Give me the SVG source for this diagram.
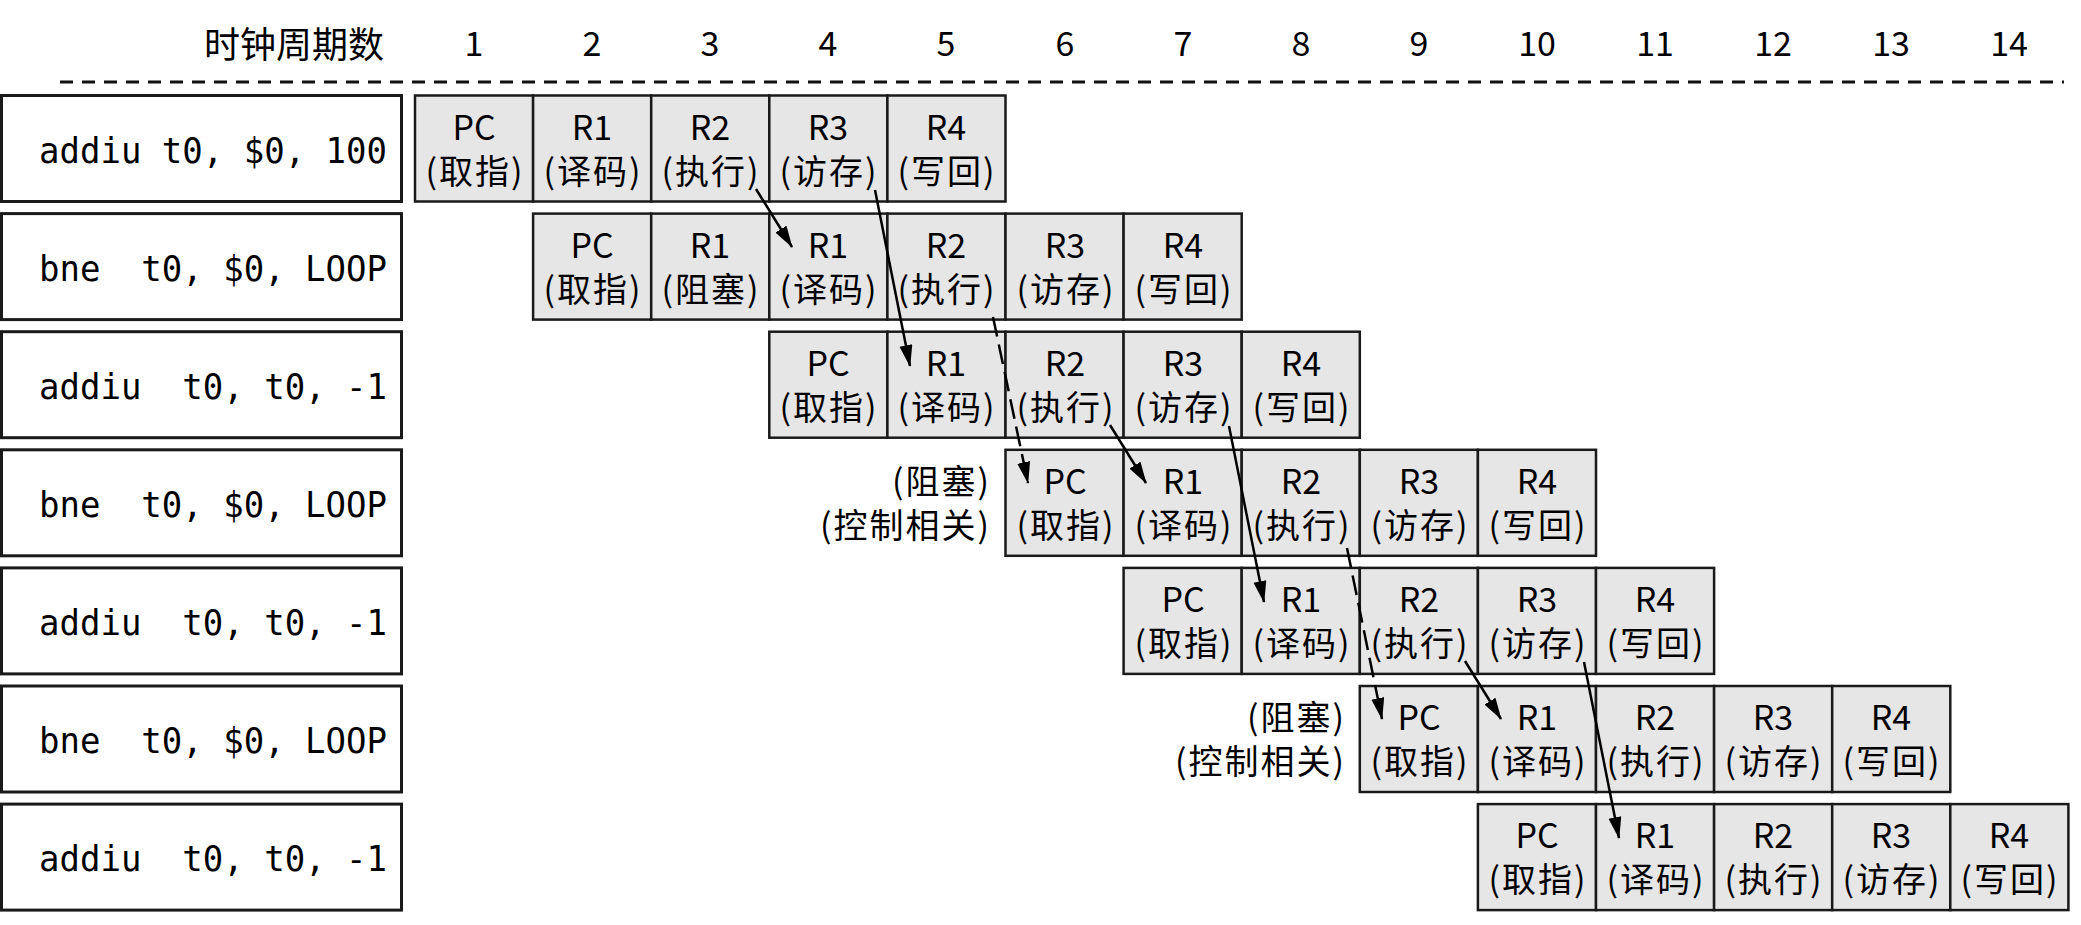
<svg xmlns="http://www.w3.org/2000/svg" width="2081" height="925" viewBox="0 0 2081 925">
<style>
.box{fill:#fff;stroke:#1a1a1a;stroke-width:3}
.cell{fill:#e6e6e6;stroke:#1a1a1a;stroke-width:2.5}
.t{font-family:"Noto Sans CJK SC","Noto Sans",sans-serif;font-size:34px;fill:#000;text-anchor:middle}
.p{letter-spacing:2px}
.h{font-family:"Noto Sans CJK SC","Noto Sans",sans-serif;font-size:36px;fill:#000}
.lbl{font-family:"Noto Sans CJK SC","Noto Sans",sans-serif;font-size:34px;fill:#000;text-anchor:end;letter-spacing:2px}
.mono{font-family:"DejaVu Sans Mono","Liberation Mono",monospace;font-size:36px;fill:#000}
.conn{stroke:#000;stroke-width:2.5;fill:none;marker-end:url(#ah)}
.dash{stroke-dasharray:20 8}
</style>
<defs>
<marker id="ah" markerUnits="userSpaceOnUse" markerWidth="24" markerHeight="14" refX="21" refY="6.5" orient="auto">
<path d="M0,0 L22,6.5 L0,13 z" fill="#000"/>
</marker>
</defs>
<rect x="0" y="0" width="2081" height="925" fill="#fff"/>
<g id="header">
<text class="h" x="384" y="58" text-anchor="end">时钟周期数</text>
<text class="t" x="474" y="56">1</text>
<text class="t" x="592" y="56">2</text>
<text class="t" x="710" y="56">3</text>
<text class="t" x="828" y="56">4</text>
<text class="t" x="946" y="56">5</text>
<text class="t" x="1065" y="56">6</text>
<text class="t" x="1183" y="56">7</text>
<text class="t" x="1301" y="56">8</text>
<text class="t" x="1419" y="56">9</text>
<text class="t" x="1537" y="56">10</text>
<text class="t" x="1655" y="56">11</text>
<text class="t" x="1773" y="56">12</text>
<text class="t" x="1891" y="56">13</text>
<text class="t" x="2009" y="56">14</text>
<line x1="60" y1="82" x2="2064" y2="82" stroke="#111" stroke-width="3" stroke-dasharray="13 9"/>
</g>
<g id="instr1">
<rect class="box" x="1.5" y="95.5" width="400" height="106"/>
<text class="mono" x="39" y="163" textLength="348" lengthAdjust="spacingAndGlyphs" xml:space="preserve">addiu t0, $0, 100</text>
</g>
<g id="instr2">
<rect class="box" x="1.5" y="213.6" width="400" height="106"/>
<text class="mono" x="39" y="281" textLength="348" lengthAdjust="spacingAndGlyphs" xml:space="preserve">bne  t0, $0, LOOP</text>
</g>
<g id="instr3">
<rect class="box" x="1.5" y="331.7" width="400" height="106"/>
<text class="mono" x="39" y="399" textLength="348" lengthAdjust="spacingAndGlyphs" xml:space="preserve">addiu  t0, t0, -1</text>
</g>
<g id="instr4">
<rect class="box" x="1.5" y="449.8" width="400" height="106"/>
<text class="mono" x="39" y="517" textLength="348" lengthAdjust="spacingAndGlyphs" xml:space="preserve">bne  t0, $0, LOOP</text>
</g>
<g id="instr5">
<rect class="box" x="1.5" y="567.9" width="400" height="106"/>
<text class="mono" x="39" y="635" textLength="348" lengthAdjust="spacingAndGlyphs" xml:space="preserve">addiu  t0, t0, -1</text>
</g>
<g id="instr6">
<rect class="box" x="1.5" y="686" width="400" height="106"/>
<text class="mono" x="39" y="753" textLength="348" lengthAdjust="spacingAndGlyphs" xml:space="preserve">bne  t0, $0, LOOP</text>
</g>
<g id="instr7">
<rect class="box" x="1.5" y="804.1" width="400" height="106"/>
<text class="mono" x="39" y="871" textLength="348" lengthAdjust="spacingAndGlyphs" xml:space="preserve">addiu  t0, t0, -1</text>
</g>

<g id="pipe1">
<rect class="cell" x="415" y="95.5" width="118.1" height="106"/><text class="t"><tspan x="474" y="139.5">PC</tspan><tspan class="p" x="475" y="183.5">(取指)</tspan></text>
<rect class="cell" x="533.1" y="95.5" width="118.1" height="106"/><text class="t"><tspan x="592" y="139.5">R1</tspan><tspan class="p" x="593" y="183.5">(译码)</tspan></text>
<rect class="cell" x="651.2" y="95.5" width="118.1" height="106"/><text class="t"><tspan x="710" y="139.5">R2</tspan><tspan class="p" x="711" y="183.5">(执行)</tspan></text>
<rect class="cell" x="769.3" y="95.5" width="118.1" height="106"/><text class="t"><tspan x="828" y="139.5">R3</tspan><tspan class="p" x="829" y="183.5">(访存)</tspan></text>
<rect class="cell" x="887.4" y="95.5" width="118.1" height="106"/><text class="t"><tspan x="946" y="139.5">R4</tspan><tspan class="p" x="947" y="183.5">(写回)</tspan></text>
</g>
<g id="pipe2">
<rect class="cell" x="533.1" y="213.6" width="118.1" height="106"/><text class="t"><tspan x="592" y="257.6">PC</tspan><tspan class="p" x="593" y="301.6">(取指)</tspan></text>
<rect class="cell" x="651.2" y="213.6" width="118.1" height="106"/><text class="t"><tspan x="710" y="257.6">R1</tspan><tspan class="p" x="711" y="301.6">(阻塞)</tspan></text>
<rect class="cell" x="769.3" y="213.6" width="118.1" height="106"/><text class="t"><tspan x="828" y="257.6">R1</tspan><tspan class="p" x="829" y="301.6">(译码)</tspan></text>
<rect class="cell" x="887.4" y="213.6" width="118.1" height="106"/><text class="t"><tspan x="946" y="257.6">R2</tspan><tspan class="p" x="947" y="301.6">(执行)</tspan></text>
<rect class="cell" x="1005.5" y="213.6" width="118.1" height="106"/><text class="t"><tspan x="1065" y="257.6">R3</tspan><tspan class="p" x="1066" y="301.6">(访存)</tspan></text>
<rect class="cell" x="1123.6" y="213.6" width="118.1" height="106"/><text class="t"><tspan x="1183" y="257.6">R4</tspan><tspan class="p" x="1184" y="301.6">(写回)</tspan></text>
</g>
<g id="pipe3">
<rect class="cell" x="769.3" y="331.7" width="118.1" height="106"/><text class="t"><tspan x="828" y="375.7">PC</tspan><tspan class="p" x="829" y="419.7">(取指)</tspan></text>
<rect class="cell" x="887.4" y="331.7" width="118.1" height="106"/><text class="t"><tspan x="946" y="375.7">R1</tspan><tspan class="p" x="947" y="419.7">(译码)</tspan></text>
<rect class="cell" x="1005.5" y="331.7" width="118.1" height="106"/><text class="t"><tspan x="1065" y="375.7">R2</tspan><tspan class="p" x="1066" y="419.7">(执行)</tspan></text>
<rect class="cell" x="1123.6" y="331.7" width="118.1" height="106"/><text class="t"><tspan x="1183" y="375.7">R3</tspan><tspan class="p" x="1184" y="419.7">(访存)</tspan></text>
<rect class="cell" x="1241.7" y="331.7" width="118.1" height="106"/><text class="t"><tspan x="1301" y="375.7">R4</tspan><tspan class="p" x="1302" y="419.7">(写回)</tspan></text>
</g>
<g id="pipe4">
<text class="lbl"><tspan x="991" y="493.8">(阻塞)</tspan><tspan x="991" y="537.8">(控制相关)</tspan></text>
<rect class="cell" x="1005.5" y="449.8" width="118.1" height="106"/><text class="t"><tspan x="1065" y="493.8">PC</tspan><tspan class="p" x="1066" y="537.8">(取指)</tspan></text>
<rect class="cell" x="1123.6" y="449.8" width="118.1" height="106"/><text class="t"><tspan x="1183" y="493.8">R1</tspan><tspan class="p" x="1184" y="537.8">(译码)</tspan></text>
<rect class="cell" x="1241.7" y="449.8" width="118.1" height="106"/><text class="t"><tspan x="1301" y="493.8">R2</tspan><tspan class="p" x="1302" y="537.8">(执行)</tspan></text>
<rect class="cell" x="1359.8" y="449.8" width="118.1" height="106"/><text class="t"><tspan x="1419" y="493.8">R3</tspan><tspan class="p" x="1420" y="537.8">(访存)</tspan></text>
<rect class="cell" x="1477.9" y="449.8" width="118.1" height="106"/><text class="t"><tspan x="1537" y="493.8">R4</tspan><tspan class="p" x="1538" y="537.8">(写回)</tspan></text>
</g>
<g id="pipe5">
<rect class="cell" x="1123.6" y="567.9" width="118.1" height="106"/><text class="t"><tspan x="1183" y="611.9">PC</tspan><tspan class="p" x="1184" y="655.9">(取指)</tspan></text>
<rect class="cell" x="1241.7" y="567.9" width="118.1" height="106"/><text class="t"><tspan x="1301" y="611.9">R1</tspan><tspan class="p" x="1302" y="655.9">(译码)</tspan></text>
<rect class="cell" x="1359.8" y="567.9" width="118.1" height="106"/><text class="t"><tspan x="1419" y="611.9">R2</tspan><tspan class="p" x="1420" y="655.9">(执行)</tspan></text>
<rect class="cell" x="1477.9" y="567.9" width="118.1" height="106"/><text class="t"><tspan x="1537" y="611.9">R3</tspan><tspan class="p" x="1538" y="655.9">(访存)</tspan></text>
<rect class="cell" x="1596" y="567.9" width="118.1" height="106"/><text class="t"><tspan x="1655" y="611.9">R4</tspan><tspan class="p" x="1656" y="655.9">(写回)</tspan></text>
</g>
<g id="pipe6">
<text class="lbl"><tspan x="1346" y="730">(阻塞)</tspan><tspan x="1346" y="774">(控制相关)</tspan></text>
<rect class="cell" x="1359.8" y="686" width="118.1" height="106"/><text class="t"><tspan x="1419" y="730">PC</tspan><tspan class="p" x="1420" y="774">(取指)</tspan></text>
<rect class="cell" x="1477.9" y="686" width="118.1" height="106"/><text class="t"><tspan x="1537" y="730">R1</tspan><tspan class="p" x="1538" y="774">(译码)</tspan></text>
<rect class="cell" x="1596" y="686" width="118.1" height="106"/><text class="t"><tspan x="1655" y="730">R2</tspan><tspan class="p" x="1656" y="774">(执行)</tspan></text>
<rect class="cell" x="1714.1" y="686" width="118.1" height="106"/><text class="t"><tspan x="1773" y="730">R3</tspan><tspan class="p" x="1774" y="774">(访存)</tspan></text>
<rect class="cell" x="1832.2" y="686" width="118.1" height="106"/><text class="t"><tspan x="1891" y="730">R4</tspan><tspan class="p" x="1892" y="774">(写回)</tspan></text>
</g>
<g id="pipe7">
<rect class="cell" x="1477.9" y="804.1" width="118.1" height="106"/><text class="t"><tspan x="1537" y="848.1">PC</tspan><tspan class="p" x="1538" y="892.1">(取指)</tspan></text>
<rect class="cell" x="1596" y="804.1" width="118.1" height="106"/><text class="t"><tspan x="1655" y="848.1">R1</tspan><tspan class="p" x="1656" y="892.1">(译码)</tspan></text>
<rect class="cell" x="1714.1" y="804.1" width="118.1" height="106"/><text class="t"><tspan x="1773" y="848.1">R2</tspan><tspan class="p" x="1774" y="892.1">(执行)</tspan></text>
<rect class="cell" x="1832.2" y="804.1" width="118.1" height="106"/><text class="t"><tspan x="1891" y="848.1">R3</tspan><tspan class="p" x="1892" y="892.1">(访存)</tspan></text>
<rect class="cell" x="1950.3" y="804.1" width="118.1" height="106"/><text class="t"><tspan x="2009" y="848.1">R4</tspan><tspan class="p" x="2010" y="892.1">(写回)</tspan></text>
</g>

<g id="connectors">
<line class="conn" x1="756" y1="189" x2="792" y2="247"/>
<line class="conn" x1="875" y1="190" x2="910" y2="366"/>
<line class="conn dash" x1="993" y1="317" x2="1028" y2="483"/>
<line class="conn" x1="1110" y1="425" x2="1146" y2="483"/>
<line class="conn" x1="1229" y1="426" x2="1264" y2="602"/>
<line class="conn dash" x1="1347" y1="548" x2="1382" y2="719"/>
<line class="conn" x1="1465" y1="661" x2="1501" y2="719"/>
<line class="conn" x1="1584" y1="662" x2="1619" y2="838"/>
</g>
</svg>
